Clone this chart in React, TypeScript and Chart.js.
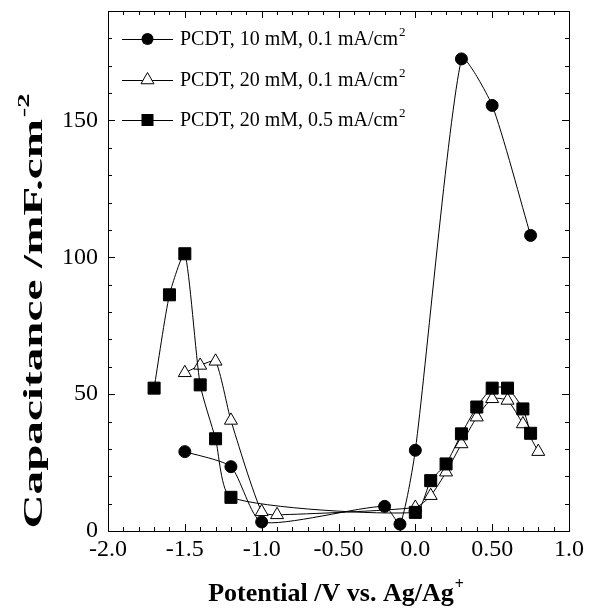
import React, { useEffect, useRef } from 'react';
import { Chart, registerables } from 'chart.js';

Chart.register(...registerables);

// Series: PCDT, 10 mM, 0.1 mA/cm2 (filled circles)
const circleX = [-1.5, -1.2, -1.0, -0.2, -0.1, 0.0, 0.3, 0.5, 0.75];
const circleY = [29, 23.5, 3.3, 9, 2.5, 29.5, 172.5, 155.5, 108];
// Series: PCDT, 20 mM, 0.1 mA/cm2 (open triangles)
const triangleX = [-1.5, -1.4, -1.3, -1.2, -1.0, -0.9, 0.0, 0.1, 0.2, 0.3, 0.4, 0.5, 0.6, 0.7, 0.8];
const triangleY = [57.8, 60.5, 62, 40.4, 7, 5.9, 8.6, 12.9, 21.5, 31.8, 41.6, 48.3, 47.7, 39.1, 29];
// Series: PCDT, 20 mM, 0.5 mA/cm2 (filled squares)
const squareX = [-1.7, -1.6, -1.5, -1.4, -1.3, -1.2, 0.0, 0.1, 0.2, 0.3, 0.4, 0.5, 0.6, 0.7, 0.75];
const squareY = [52.2, 86.3, 101.3, 53.4, 33.7, 12.3, 6.8, 18.4, 24.5, 35.5, 45.3, 52.2, 52.2, 44.6, 35.7];

const seriesNames = ['PCDT, 10 mM, 0.1 mA/cm', 'PCDT, 20 mM, 0.1 mA/cm', 'PCDT, 20 mM, 0.5 mA/cm'];
const xTickLabels: Record<number, string> = { [-20]: '-2.0', [-15]: '-1.5', [-10]: '-1.0', [-5]: '-0.50', 0: '0.0', 5: '0.50', 10: '1.0' };
const yTickLabels = [0, 50, 100, 150];
const xTitle = 'Potential /V vs. Ag/Ag';
const xTitleSup = '+';
const yTitle = 'Capacitance /mF.cm';
const yTitleSup = '-2';

const SERIF = "'Liberation Serif', 'Times New Roman', serif";

const zip = (xs: number[], ys: number[]) => xs.map((x, i) => ({ x, y: ys[i] }));

function drawMarker(ctx: CanvasRenderingContext2D, kind: number, x: number, y: number) {
  ctx.save();
  ctx.lineWidth = 1;
  ctx.strokeStyle = '#000';
  if (kind === 0) {
    ctx.beginPath();
    ctx.arc(x, y, 6, 0, Math.PI * 2);
    ctx.fillStyle = '#000';
    ctx.fill();
  } else if (kind === 1) {
    const r = 7.5;
    ctx.beginPath();
    for (let k = 0; k < 3; k++) {
      const a = (k * 2 * Math.PI) / 3;
      const px = x + Math.sin(a) * r;
      const py = y - Math.cos(a) * r;
      if (k === 0) ctx.moveTo(px, py);
      else ctx.lineTo(px, py);
    }
    ctx.closePath();
    ctx.fillStyle = '#fff';
    ctx.fill();
    ctx.stroke();
  } else {
    ctx.fillStyle = '#000';
    ctx.fillRect(x - 6, y - 6, 12, 12);
  }
  ctx.restore();
}

const decorPlugin = {
  id: 'decor',
  afterDraw(chart: any) {
    const ctx: CanvasRenderingContext2D = chart.ctx;
    const { left, right, top, bottom } = chart.chartArea;
    const xs = chart.scales.x;
    const ys = chart.scales.y;
    ctx.save();
    ctx.strokeStyle = '#000';
    ctx.lineWidth = 1;
    // frame
    ctx.strokeRect(Math.round(left) + 0.5, Math.round(top) + 0.5, Math.round(right - left), Math.round(bottom - top));
    // x ticks
    ctx.beginPath();
    for (let i = -20; i <= 10; i++) {
      const px = Math.round(xs.getPixelForValue(i / 10)) + 0.5;
      const len = i % 5 === 0 ? 7 : 4;
      ctx.moveTo(px, bottom);
      ctx.lineTo(px, bottom - len);
      ctx.moveTo(px, top);
      ctx.lineTo(px, top + len);
    }
    // y ticks
    for (let v = 0; v <= 190; v += 10) {
      const py = Math.round(ys.getPixelForValue(v)) + 0.5;
      const len = v % 50 === 0 ? 7 : 4;
      ctx.moveTo(left, py);
      ctx.lineTo(left + len, py);
      ctx.moveTo(right, py);
      ctx.lineTo(right - len, py);
    }
    ctx.stroke();

    // legend
    const rows = [39, 80, 120];
    rows.forEach((ry, i) => {
      ctx.beginPath();
      ctx.moveTo(122, ry + 0.5);
      ctx.lineTo(173, ry + 0.5);
      ctx.stroke();
      drawMarker(ctx, i, 147.5, ry);
      ctx.fillStyle = '#000';
      ctx.font = `20px ${SERIF}`;
      ctx.textBaseline = 'middle';
      ctx.textAlign = 'left';
      ctx.fillText(seriesNames[i], 180, ry + 1);
      const w = ctx.measureText(seriesNames[i]).width;
      ctx.font = `13px ${SERIF}`;
      ctx.fillText('2', 180 + w + 1, ry - 6);
    });

    // x title
    ctx.fillStyle = '#000';
    ctx.textBaseline = 'alphabetic';
    ctx.font = `bold 26px ${SERIF}`;
    const wx = ctx.measureText(xTitle).width;
    ctx.font = `bold 16px ${SERIF}`;
    const wsx = ctx.measureText(xTitleSup).width;
    const cx = (left + right) / 2 - 3;
    const startX = cx - (wx + wsx) / 2;
    ctx.font = `bold 26px ${SERIF}`;
    ctx.textAlign = 'left';
    ctx.fillText(xTitle, startX, 601);
    ctx.font = `bold 16px ${SERIF}`;
    ctx.fillText(xTitleSup, startX + wx + 1, 589);

    // y title (stretched along its length as in the original figure)
    ctx.save();
    ctx.translate(42, 311);
    ctx.rotate(-Math.PI / 2);
    ctx.font = `bold 28px ${SERIF}`;
    const wy = ctx.measureText(yTitle).width;
    ctx.font = `bold 17px ${SERIF}`;
    const wsy = ctx.measureText(yTitleSup).width;
    const total = wy + wsy + 1;
    const sx = 435 / total;
    ctx.scale(sx, 1);
    ctx.font = `bold 28px ${SERIF}`;
    ctx.fillText(yTitle, -total / 2, 0);
    ctx.font = `bold 17px ${SERIF}`;
    ctx.fillText(yTitleSup, -total / 2 + wy + 1, -13);
    ctx.restore();

    ctx.restore();
  },
};

export default function App() {
  const ref = useRef<HTMLCanvasElement | null>(null);
  useEffect(() => {
    if (!ref.current) return;
    const common = { borderColor: '#000', borderWidth: 1, tension: 0.2, pointBorderColor: '#000', pointBorderWidth: 1 };
    const chart = new Chart(ref.current, {
      type: 'line',
      data: {
        datasets: [
          { ...common, label: seriesNames[0], data: zip(circleX, circleY), pointStyle: 'circle', pointRadius: 6, pointBackgroundColor: '#000', order: 0 },
          { ...common, label: seriesNames[1], data: zip(triangleX, triangleY), pointStyle: 'triangle', pointRadius: 7.5, pointBackgroundColor: '#fff', order: 2 },
          { ...common, label: seriesNames[2], data: zip(squareX, squareY), pointStyle: 'rect', pointRadius: 8.5, pointBackgroundColor: '#000', order: 1 },
        ],
      },
      options: {
        responsive: false,
        animation: false,
        layout: { padding: { top: 11, right: 21, left: 0, bottom: 0 } },
        plugins: { legend: { display: false }, tooltip: { enabled: false } },
        scales: {
          x: {
            type: 'linear',
            min: -2,
            max: 1,
            grid: { display: false, drawTicks: false },
            border: { display: false },
            ticks: {
              stepSize: 0.1,
              autoSkip: false,
              maxRotation: 0,
              padding: 4,
              color: '#000',
              font: { family: SERIF, size: 24 },
              callback: (v: any) => {
                const k = Math.round(Number(v) * 10);
                return xTickLabels[k] !== undefined ? xTickLabels[k] : '';
              },
            },
            afterFit: (s: any) => { s.height = 77; s.paddingLeft = 0; s.paddingRight = 0; },
          },
          y: {
            type: 'linear',
            min: 0,
            max: 190,
            grid: { display: false, drawTicks: false },
            border: { display: false },
            ticks: {
              stepSize: 10,
              autoSkip: false,
              padding: 10,
              color: '#000',
              font: { family: SERIF, size: 24 },
              callback: (v: any) => (yTickLabels.includes(Number(v)) ? String(v) : ''),
            },
            afterFit: (s: any) => { s.width = 108; s.paddingTop = 0; s.paddingBottom = 0; },
          },
        },
      } as any,
      plugins: [decorPlugin],
    });
    return () => chart.destroy();
  }, []);
  return (
    <div style={{ position: 'fixed', left: 0, top: 0, width: 590, height: 608, background: '#fff' }}>
      <canvas ref={ref} width={590} height={608} style={{ display: 'block' }} />
    </div>
  );
}
